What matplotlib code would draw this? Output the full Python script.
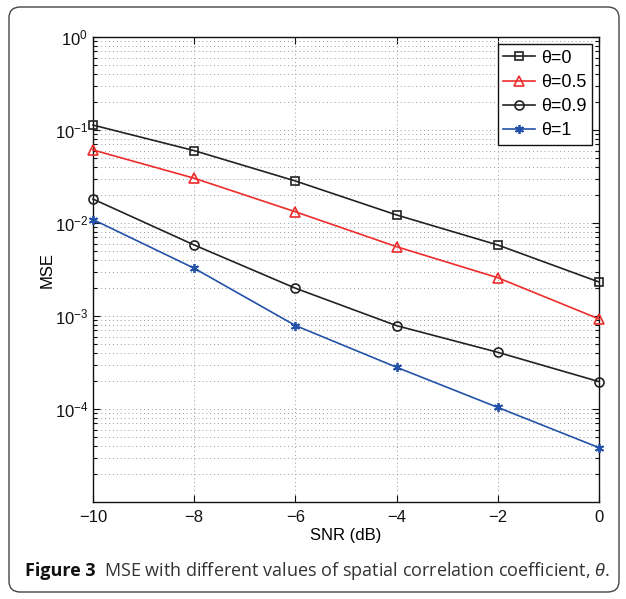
import numpy as np
import matplotlib.pyplot as plt
from matplotlib.patches import FancyBboxPatch
from matplotlib.ticker import LogLocator, NullFormatter, FixedLocator

snr_db = [-10, -8, -6, -4, -2, 0]
mse_theta0 = [0.113, 0.060, 0.0283, 0.0122, 0.0058, 0.00232]
mse_theta05 = [0.061, 0.0303, 0.0132, 0.00556, 0.00258, 0.00093]
mse_theta09 = [0.0181, 0.0058, 0.00199, 0.000787, 0.000407, 0.000197]
mse_theta1 = [0.0109, 0.00326, 0.00079, 0.000281, 0.000104, 3.84e-5]
labels = ['θ=0', 'θ=0.5', 'θ=0.9', 'θ=1']
xtick_labels = ['\u221210', '\u22128', '\u22126', '\u22124', '\u22122', '0']
ytick_vals = [1e-4, 1e-3, 1e-2, 1e-1, 1]
ytick_labels = ['$10^{-4}$', '$10^{-3}$', '$10^{-2}$', '$10^{-1}$', '$10^{0}$']

plt.rcParams['font.family'] = ['Liberation Sans', 'DejaVu Sans']
plt.rcParams['mathtext.fontset'] = 'custom'
plt.rcParams['mathtext.rm'] = 'Liberation Sans'
plt.rcParams['mathtext.it'] = 'Liberation Sans:italic'

fig = plt.figure(figsize=(6.26, 5.99), dpi=100)
ax = fig.add_axes([93/626, 1-502/599, 506/626, 465/599])

# rounded frame around the whole figure
frame = FancyBboxPatch((9/626, 7/599), 610/626, 585/599,
                       boxstyle='round,pad=0,rounding_size=0.018',
                       transform=fig.transFigure, fill=False,
                       edgecolor='#444444', linewidth=1.0, zorder=0)
fig.patches.append(frame)

style = dict(lw=1.2, mfc='none', mew=1.2, clip_on=False, zorder=3)
ax.plot(snr_db, mse_theta0, '-s', color='#222222', ms=5.5, label=labels[0], **style)
ax.plot(snr_db, mse_theta05, '-^', color='#ee2c2c', ms=7.5, label=labels[1], **style)
ax.plot(snr_db, mse_theta09, '-o', color='#222222', ms=6.5, label=labels[2], **style)
ax.plot(snr_db, mse_theta1, '-', marker=(6, 2, 0), color='#2452a8', ms=6.5,
        lw=1.2, mew=1.3, clip_on=False, zorder=3, label=labels[3])

ax.set_yscale('log')
ax.set_xlim(-10, 0)
ax.set_ylim(1e-5, 1)
ax.set_xticks(snr_db)
ax.set_xticklabels(xtick_labels)
ax.yaxis.set_major_locator(FixedLocator(ytick_vals))
ax.set_yticklabels(ytick_labels)
ax.yaxis.set_minor_locator(LogLocator(base=10, subs=np.arange(2, 10), numticks=20))
ax.yaxis.set_minor_formatter(NullFormatter())

ax.tick_params(which='both', direction='in', top=True, right=True,
               labelsize=12, width=0.8, colors='#111111')
ax.tick_params(which='major', length=5)
ax.tick_params(which='minor', length=3)
ax.tick_params(axis='x', pad=6)

grid_style = dict(linestyle=(0, (1, 3)), color='#999999', linewidth=0.7)
ax.grid(True, which='major', **grid_style)
ax.grid(True, which='minor', axis='y', **grid_style)
for s in ax.spines.values():
    s.set_linewidth(1.0)
    s.set_color('#111111')

ax.set_xlabel('SNR (dB)', fontsize=12, labelpad=2)
ax.set_ylabel('MSE', fontsize=12, labelpad=0)

leg = ax.legend(loc='upper right', fontsize=13, fancybox=False, framealpha=1,
                edgecolor='#111111', borderpad=0.3, handlelength=1.8,
                handletextpad=0.3, labelspacing=0.4, borderaxespad=0.4)
leg.get_frame().set_linewidth(1.0)

fig.text(25/626, 1-571/599, 'Figure 3', fontsize=13, va='center',
         family='Open Sans', fontweight='bold', color='#111111')
fig.text(104/626, 1-571/599,
         r'MSE with different values of spatial correlation coefficient, $\mathit{\theta}$.',
         fontsize=13, va='center', family='Open Sans', color='#333333')

fig.savefig('out.png', dpi=100)
